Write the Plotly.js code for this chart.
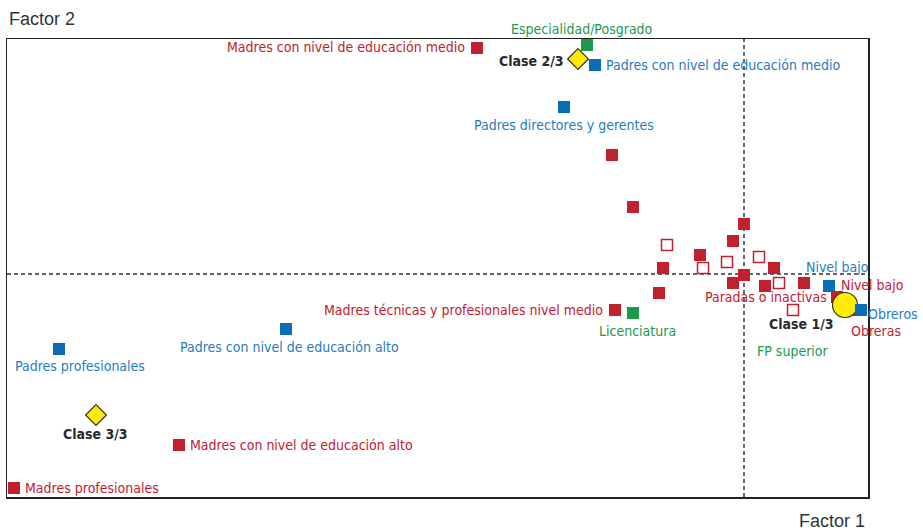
<!DOCTYPE html>
<html><head><meta charset="utf-8">
<script src="https://cdn.plot.ly/plotly-3.0.1.min.js"></script>
<style>body{margin:0;background:#fff}#chart{width:923px;height:530px}</style>
</head><body><div id="chart"></div>
<script>
// Madres (red, filled) — named categories
const madresLabels = ["Madres con nivel de educación medio","Madres técnicas y profesionales nivel medio","Madres con nivel de educación alto","Madres profesionales","Nivel bajo","Obreras"];
const madresX = [-2.67,-1.29,-5.65,-7.30,0.93,1.08];
const madresY = [2.26,-0.36,-1.71,-2.14,-0.23,-0.36];
// other filled red categories (unlabelled)
const madresOtrasX = [-1.32,-1.11,0.00,-0.11,-0.44,-0.81,0.00,-0.11,0.21,0.30,0.60,-0.85];
const madresOtrasY = [1.19,0.67,0.50,0.33,0.19,0.06,-0.01,-0.09,-0.12,0.06,-0.09,-0.19];
// hollow red categories
const huecosX = [-0.77,-0.41,-0.17,0.15,0.35,0.49];
const huecosY = [0.29,0.06,0.12,0.17,-0.09,-0.36];
// Padres (blue)
const padresLabels = ["Padres con nivel de educación medio","Padres directores y gerentes","Padres con nivel de educación alto","Padres profesionales","Nivel bajo","Obreros"];
const padresX = [-1.49,-1.80,-4.58,-6.85,0.85,1.17];
const padresY = [2.09,1.67,-0.55,-0.75,-0.12,-0.36];
// Estudios (green)
const estudiosLabels = ["Especialidad/Posgrado","Licenciatura"];
const estudiosX = [-1.57,-1.11];
const estudiosY = [2.29,-0.39];
// Clases (yellow)
const clasesLabels = ["Clase 1/3","Clase 2/3","Clase 3/3"];
const clasesX = [1.01,-1.66,-6.48];
const clasesY = [-0.31,2.15,-1.41];
const extraLabels = ["Paradas o inactivas","FP superior"];

const RED="#c1202f", BLUE="#0a6db8", BLUE_T="#1f7bc4", GREEN="#1b9a4b", YEL="#ffec00";
const F="Liberation Sans Narrow, DejaVu Sans Condensed, Arial Narrow, sans-serif";

const traces = [
 {x:madresOtrasX,y:madresOtrasY,type:"scatter",mode:"markers",marker:{symbol:"square",size:12,color:RED},hoverinfo:"none"},
 {x:huecosX,y:huecosY,type:"scatter",mode:"markers",marker:{symbol:"square-open",size:11,color:RED,line:{width:1.5,color:RED}},hoverinfo:"none"},
 {x:madresX,y:madresY,type:"scatter",mode:"markers",marker:{symbol:"square",size:12,color:RED},hoverinfo:"none"},
 {x:estudiosX,y:estudiosY,type:"scatter",mode:"markers",marker:{symbol:"square",size:12,color:GREEN},hoverinfo:"none"},
 {x:[clasesX[0]],y:[clasesY[0]],type:"scatter",mode:"markers",marker:{symbol:"circle",size:25,color:YEL,line:{width:1.2,color:"#333"}},hoverinfo:"none"},
 {x:clasesX.slice(1),y:clasesY.slice(1),type:"scatter",mode:"markers",marker:{symbol:"diamond",size:16,color:YEL,line:{width:1.2,color:"#333"}},hoverinfo:"none"},
 {x:padresX,y:padresY,type:"scatter",mode:"markers",marker:{symbol:"square",size:12,color:BLUE},hoverinfo:"none"}
];

function ann(text,x,y,color,xanchor,xs,ys,bold){
  return {text:bold?"<b>"+text+"</b>":text,x:x,y:y,xref:"x",yref:"y",showarrow:false,xanchor:xanchor,yanchor:"middle",xshift:xs,yshift:ys,font:{family:F,size:14,color:color}};
}
const madresPos=[["right",-10,1],["right",-10,0],["left",9,0],["left",9,0],["left",2,12],["left",-3,-21]];
const padresPos=[["left",9,0],["center",0,-18],["center",3,-18],["center",21,-17],["center",8,19],["left",5,-4]];
const estudiosPos=[["center",-5,16],["center",4,-18]];
const clasesPos=[["center",-44,-19],["right",-12,-2],["center",-1,-19]];
const annotations=[];
madresLabels.forEach((t,i)=>annotations.push(ann(t,madresX[i],madresY[i],RED,...madresPos[i])));
padresLabels.forEach((t,i)=>annotations.push(ann(t,padresX[i],padresY[i],BLUE_T,...padresPos[i])));
estudiosLabels.forEach((t,i)=>annotations.push(ann(t,estudiosX[i],estudiosY[i],GREEN,...estudiosPos[i])));
clasesLabels.forEach((t,i)=>annotations.push(ann(t,clasesX[i],clasesY[i],"#2a2a2a",...clasesPos[i],true)));
annotations.push(ann(extraLabels[0],madresOtrasX[8],madresOtrasY[8],RED,"center",1,-11));
annotations.push(ann(extraLabels[1],clasesX[0],clasesY[0],GREEN,"center",-52,-46));
annotations.push({text:"Factor 2",xref:"paper",yref:"paper",x:0,y:1,xshift:0,yshift:20,xanchor:"left",yanchor:"middle",showarrow:false,font:{family:"Liberation Sans, Arial, sans-serif",size:18,color:"#333"}});
annotations.push({text:"Factor 1",xref:"paper",yref:"paper",x:1,y:0,xshift:-1,yshift:-24,xanchor:"right",yanchor:"middle",showarrow:false,font:{family:"Liberation Sans, Arial, sans-serif",size:18,color:"#333"}});

const layout={
 width:923,height:530,margin:{l:7,r:55,t:39,b:33},
 paper_bgcolor:"#fff",plot_bgcolor:"#fff",showlegend:false,
 xaxis:{range:[-7.37,1.24],showgrid:false,zeroline:false,showticklabels:false,ticks:"",showline:true,mirror:true,linecolor:"#222",linewidth:1.5},
 yaxis:{range:[-2.23,2.35],showgrid:false,zeroline:false,showticklabels:false,ticks:"",showline:true,mirror:true,linecolor:"#222",linewidth:1.5},
 shapes:[
  {type:"line",xref:"x",yref:"paper",x0:0,x1:0,y0:0,y1:1,line:{color:"#333",width:1.5,dash:"4px,3px"},layer:"below"},
  {type:"line",xref:"paper",yref:"y",x0:0,x1:1,y0:0,y1:0,line:{color:"#333",width:1.5,dash:"4px,3px"},layer:"below"}
 ],
 annotations:annotations
};
Plotly.newPlot("chart",traces,layout,{staticPlot:true,displayModeBar:false});
</script></body></html>
